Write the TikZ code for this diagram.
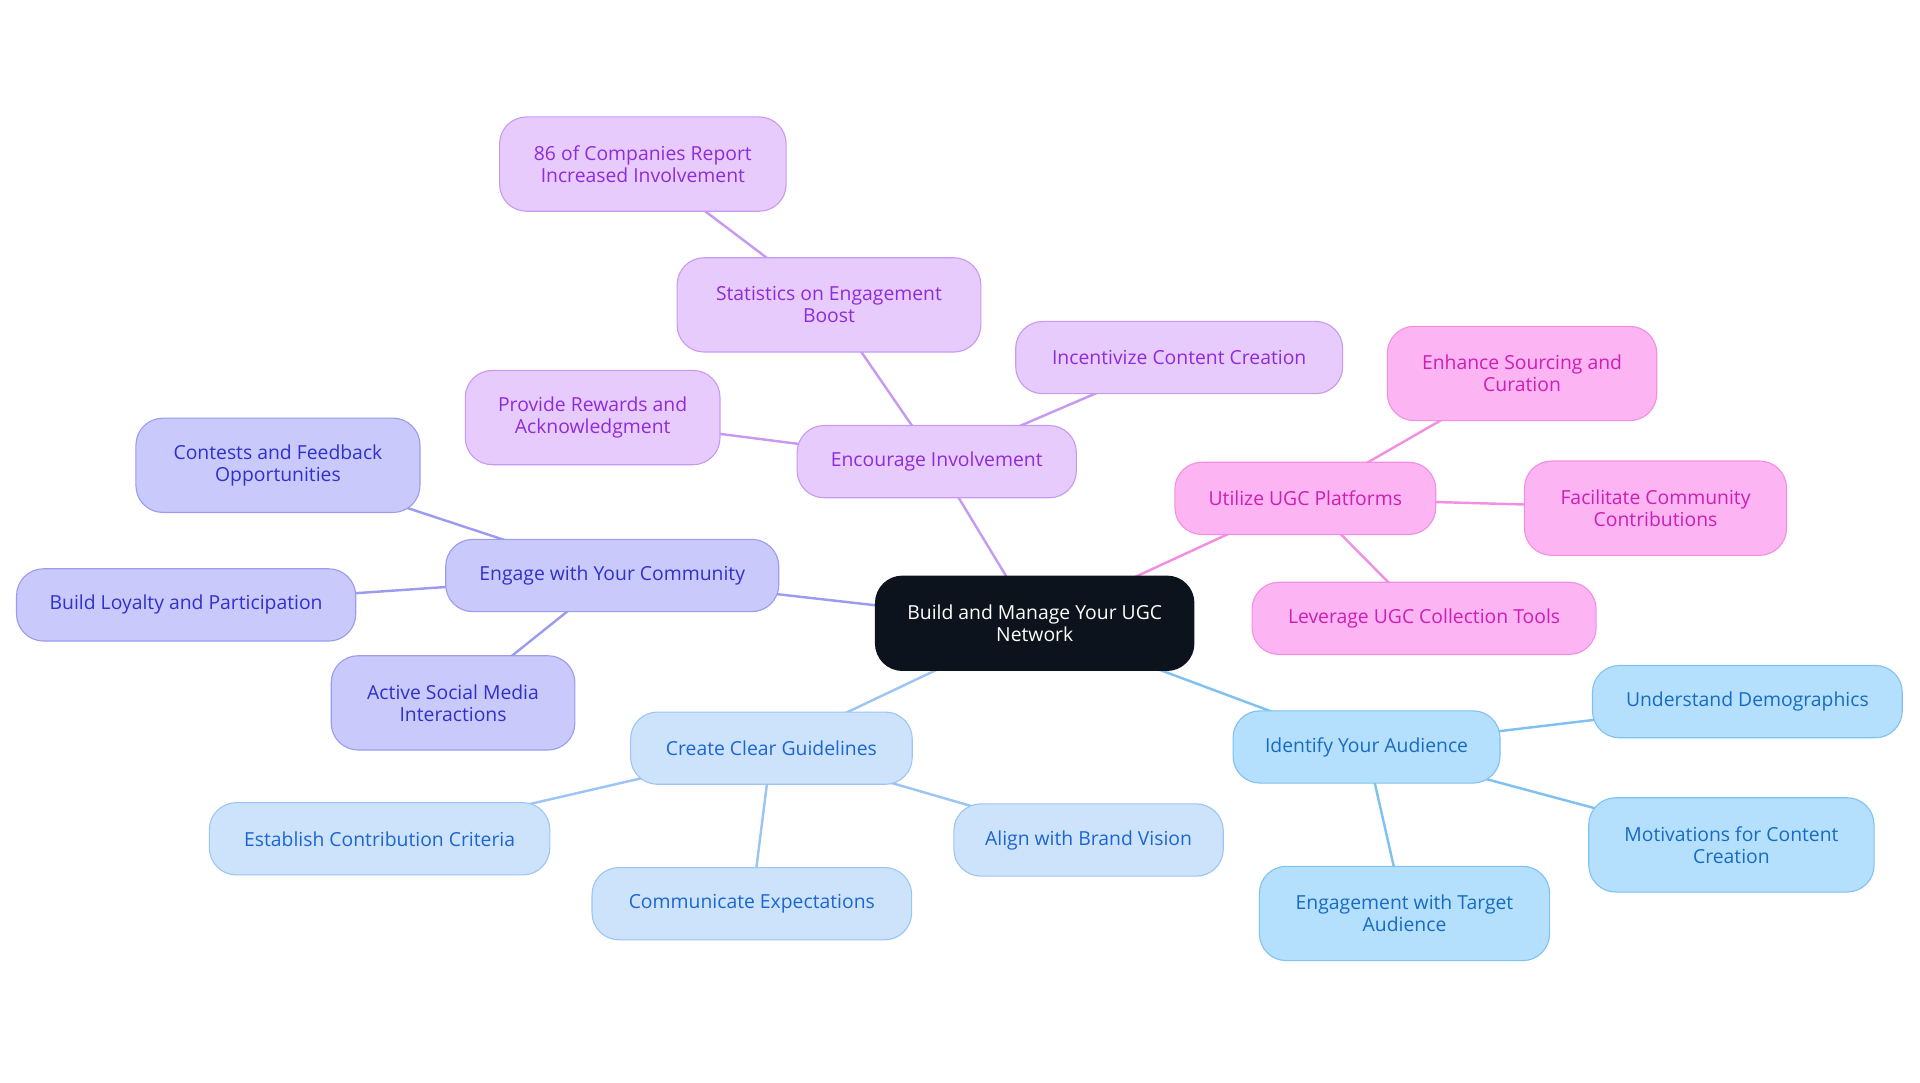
\documentclass[tikz,border=0pt]{standalone}
\usepackage{fontspec}
\setmainfont{Open Sans}
\usepackage{xcolor}
\usetikzlibrary{backgrounds}
\definecolor{rootfill}{HTML}{0D131C}
\definecolor{purplefill}{HTML}{E8CBFD}
\definecolor{purpleedge}{HTML}{C79AF2}
\definecolor{purpletext}{HTML}{8E2BDB}
\definecolor{pinkfill}{HTML}{FDB4F2}
\definecolor{pinkedge}{HTML}{F28FE3}
\definecolor{pinktext}{HTML}{CC1FB3}
\definecolor{indigofill}{HTML}{C9C9FC}
\definecolor{indigoedge}{HTML}{9B9BF0}
\definecolor{indigotext}{HTML}{3030CC}
\definecolor{bluefill}{HTML}{CDE3FC}
\definecolor{blueedge}{HTML}{9DC5F3}
\definecolor{bluetext}{HTML}{1C66CF}
\definecolor{skyfill}{HTML}{B5E0FD}
\definecolor{skyedge}{HTML}{7FC2F1}
\definecolor{skytext}{HTML}{176BC2}

\begin{document}
\begin{tikzpicture}[x=1pt, y=-1pt,
  every node/.style={font=\fontsize{15.8}{18}\selectfont},
  box/.style={rounded corners=22pt, minimum height=59pt, inner xsep=12pt, align=center, line width=0.9pt},
  tall/.style={minimum height=77pt},
  rootbox/.style={box, tall, fill=rootfill, draw=rootfill, text=white},
  purplebox/.style={box, fill=purplefill, draw=purpleedge, text=purpletext},
  pinkbox/.style={box, fill=pinkfill, draw=pinkedge, text=pinktext},
  indigobox/.style={box, fill=indigofill, draw=indigoedge, text=indigotext},
  bluebox/.style={box, fill=bluefill, draw=blueedge, text=bluetext},
  skybox/.style={box, fill=skyfill, draw=skyedge, text=skytext},
  link/.style={line width=2pt}]
\useasboundingbox (0,0) rectangle (1568,884);

% Root
\node[rootbox, minimum width=260pt] (root) at (845,509) {Build and Manage Your UGC\\Network};

% Encourage Involvement
\node[purplebox, minimum width=228pt] (encourage) at (765,377) {Encourage Involvement};
\node[purplebox, tall, minimum width=248pt] (stats) at (677,249) {Statistics on Engagement\\Boost};
\node[purplebox, tall, minimum width=234pt] (companies) at (525,134) {86 of Companies Report\\Increased Involvement};
\node[purplebox, minimum width=267pt] (incentivize) at (963,292) {Incentivize Content Creation};
\node[purplebox, tall, minimum width=208pt] (rewards) at (484,341) {Provide Rewards and\\Acknowledgment};

% Utilize UGC Platforms
\node[pinkbox, minimum width=213pt] (platforms) at (1066,407) {Utilize UGC Platforms};
\node[pinkbox, tall, minimum width=220pt] (sourcing) at (1243,305) {Enhance Sourcing and\\Curation};
\node[pinkbox, tall, minimum width=214pt] (facilitate) at (1352,415) {Facilitate Community\\Contributions};
\node[pinkbox, minimum width=281pt] (tools) at (1163,505) {Leverage UGC Collection Tools};

% Engage with Your Community
\node[indigobox, minimum width=272pt] (community) at (500,470) {Engage with Your Community};
\node[indigobox, tall, minimum width=232pt] (contests) at (227,380) {Contests and Feedback\\Opportunities};
\node[indigobox, minimum width=277pt] (loyalty) at (152,494) {Build Loyalty and Participation};
\node[indigobox, tall, minimum width=199pt] (social) at (370,574) {Active Social Media\\Interactions};

% Create Clear Guidelines
\node[bluebox, minimum width=230pt] (guidelines) at (630,611) {Create Clear Guidelines};
\node[bluebox, minimum width=278pt] (criteria) at (310,685) {Establish Contribution Criteria};
\node[bluebox, minimum width=261pt] (expectations) at (614,738) {Communicate Expectations};
\node[bluebox, minimum width=220pt] (vision) at (889,686) {Align with Brand Vision};

% Identify Your Audience
\node[skybox, minimum width=218pt] (audience) at (1116,610) {Identify Your Audience};
\node[skybox, minimum width=253pt] (demographics) at (1427,573) {Understand Demographics};
\node[skybox, tall, minimum width=233pt] (motivations) at (1414,690) {Motivations for Content\\Creation};
\node[skybox, tall, minimum width=237pt] (target) at (1147,746) {Engagement with Target\\Audience};

% links, centre to centre behind the boxes
\begin{scope}[on background layer]
\draw[link, purpleedge] (root.center) -- (encourage.center);
\draw[link, purpleedge] (encourage.center) -- (stats.center);
\draw[link, purpleedge] (stats.center) -- (companies.center);
\draw[link, purpleedge] (encourage.center) -- (incentivize.center);
\draw[link, purpleedge] (encourage.center) -- (rewards.center);
\draw[link, pinkedge] (root.center) -- (platforms.center);
\draw[link, pinkedge] (platforms.center) -- (sourcing.center);
\draw[link, pinkedge] (platforms.center) -- (facilitate.center);
\draw[link, pinkedge] (platforms.center) -- (tools.center);
\draw[link, indigoedge] (root.center) -- (community.center);
\draw[link, indigoedge] (community.center) -- (contests.center);
\draw[link, indigoedge] (community.center) -- (loyalty.center);
\draw[link, indigoedge] (community.center) -- (social.center);
\draw[link, blueedge] (root.center) -- (guidelines.center);
\draw[link, blueedge] (guidelines.center) -- (criteria.center);
\draw[link, blueedge] (guidelines.center) -- (expectations.center);
\draw[link, blueedge] (guidelines.center) -- (vision.center);
\draw[link, skyedge] (root.center) -- (audience.center);
\draw[link, skyedge] (audience.center) -- (demographics.center);
\draw[link, skyedge] (audience.center) -- (motivations.center);
\draw[link, skyedge] (audience.center) -- (target.center);
\end{scope}
\end{tikzpicture}
\end{document}
